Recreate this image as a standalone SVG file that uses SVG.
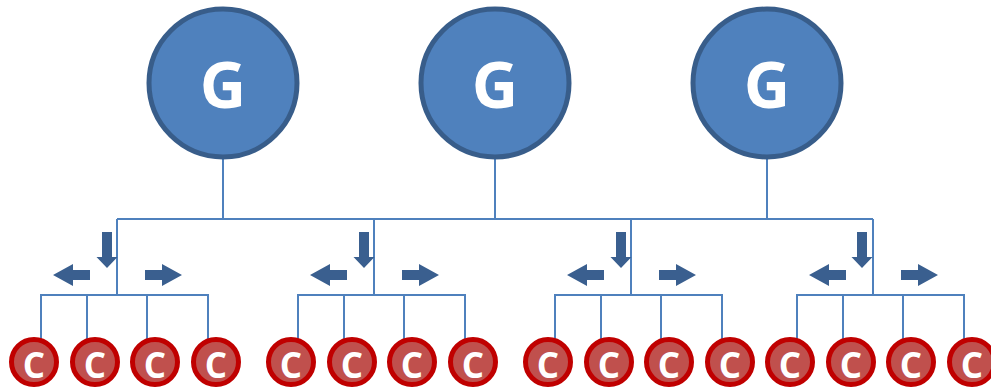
<svg xmlns="http://www.w3.org/2000/svg" xmlns:xlink="http://www.w3.org/1999/xlink" width="991" height="391" viewBox="0 0 991 391">
  <style>
    .wire { fill: none; stroke: #4F81BD; stroke-width: 2; }
    .g-circle { fill: #4F81BD; stroke: #385D8A; stroke-width: 5; }
    .g-label { fill: #FFFFFF; font-family: "Open Sans", "Liberation Sans", sans-serif; font-weight: bold; font-size: 64px; text-anchor: middle; }
    .c-circle { fill: #C0504D; stroke: #C00000; stroke-width: 5; }
    .c-label { fill: #FFFFFF; font-family: "Open Sans", "Liberation Sans", sans-serif; font-weight: bold; font-size: 35px; text-anchor: middle; }
    .arrow { fill: #3A5F8F; }
  </style>
  <defs>
    <path id="arrow-down" d="M-5,0 H5 V25 H10.5 L0,36 L-10.5,25 H-5 Z"/>
    <path id="arrow-left" d="M0,0 L20,-11 V-5 H37 V5 H20 V11 Z"/>
    <path id="arrow-right" d="M0,0 L-20,-11 V-5 H-37 V5 H-20 V11 Z"/>
  </defs>

  <!-- connectors -->
  <g id="connectors" class="wire">
    <path d="M223,159 V219 M495,159 V219 M767,159 V219"/>
    <path d="M117,219 H873"/>
    <path d="M117,219 V295 M41,339 V295 H208 V339 M87,295 V339 M147,295 V339"/>
    <path d="M374,219 V295 M298,339 V295 H465 V339 M344,295 V339 M404,295 V339"/>
    <path d="M631,219 V295 M555,339 V295 H722 V339 M601,295 V339 M661,295 V339"/>
    <path d="M873,219 V295 M797,339 V295 H964 V339 M843,295 V339 M903,295 V339"/>
  </g>

  <!-- direction arrows -->
  <g id="arrows" class="arrow">
    <use xlink:href="#arrow-down" x="107" y="232"/>
    <use xlink:href="#arrow-left" x="53" y="275"/>
    <use xlink:href="#arrow-right" x="182" y="275"/>
    <use xlink:href="#arrow-down" x="364" y="232"/>
    <use xlink:href="#arrow-left" x="310" y="275"/>
    <use xlink:href="#arrow-right" x="439" y="275"/>
    <use xlink:href="#arrow-down" x="621" y="232"/>
    <use xlink:href="#arrow-left" x="567" y="275"/>
    <use xlink:href="#arrow-right" x="696" y="275"/>
    <use xlink:href="#arrow-down" x="862" y="232"/>
    <use xlink:href="#arrow-left" x="809" y="275"/>
    <use xlink:href="#arrow-right" x="938" y="275"/>
  </g>

  <!-- G nodes -->
  <g id="g1"><circle class="g-circle" cx="223" cy="83" r="74"/><text class="g-label" x="223" y="108">G</text></g>
  <g id="g2"><circle class="g-circle" cx="495" cy="83" r="74"/><text class="g-label" x="495" y="108">G</text></g>
  <g id="g3"><circle class="g-circle" cx="767" cy="83" r="74"/><text class="g-label" x="767" y="108">G</text></g>

  <!-- C nodes -->
  <g id="c1"><circle class="c-circle" cx="34" cy="362" r="22.5"/><text class="c-label" x="34" y="378">C</text></g>
  <g id="c2"><circle class="c-circle" cx="95" cy="362" r="22.5"/><text class="c-label" x="95" y="378">C</text></g>
  <g id="c3"><circle class="c-circle" cx="155" cy="362" r="22.5"/><text class="c-label" x="155" y="378">C</text></g>
  <g id="c4"><circle class="c-circle" cx="216" cy="362" r="22.5"/><text class="c-label" x="216" y="378">C</text></g>
  <g id="c5"><circle class="c-circle" cx="291" cy="362" r="22.5"/><text class="c-label" x="291" y="378">C</text></g>
  <g id="c6"><circle class="c-circle" cx="352" cy="362" r="22.5"/><text class="c-label" x="352" y="378">C</text></g>
  <g id="c7"><circle class="c-circle" cx="412" cy="362" r="22.5"/><text class="c-label" x="412" y="378">C</text></g>
  <g id="c8"><circle class="c-circle" cx="473" cy="362" r="22.5"/><text class="c-label" x="473" y="378">C</text></g>
  <g id="c9"><circle class="c-circle" cx="548" cy="362" r="22.5"/><text class="c-label" x="548" y="378">C</text></g>
  <g id="c10"><circle class="c-circle" cx="609" cy="362" r="22.5"/><text class="c-label" x="609" y="378">C</text></g>
  <g id="c11"><circle class="c-circle" cx="669" cy="362" r="22.5"/><text class="c-label" x="669" y="378">C</text></g>
  <g id="c12"><circle class="c-circle" cx="730" cy="362" r="22.5"/><text class="c-label" x="730" y="378">C</text></g>
  <g id="c13"><circle class="c-circle" cx="790" cy="362" r="22.5"/><text class="c-label" x="790" y="378">C</text></g>
  <g id="c14"><circle class="c-circle" cx="851" cy="362" r="22.5"/><text class="c-label" x="851" y="378">C</text></g>
  <g id="c15"><circle class="c-circle" cx="911" cy="362" r="22.5"/><text class="c-label" x="911" y="378">C</text></g>
  <g id="c16"><circle class="c-circle" cx="972" cy="362" r="22.5"/><text class="c-label" x="972" y="378">C</text></g>
</svg>
